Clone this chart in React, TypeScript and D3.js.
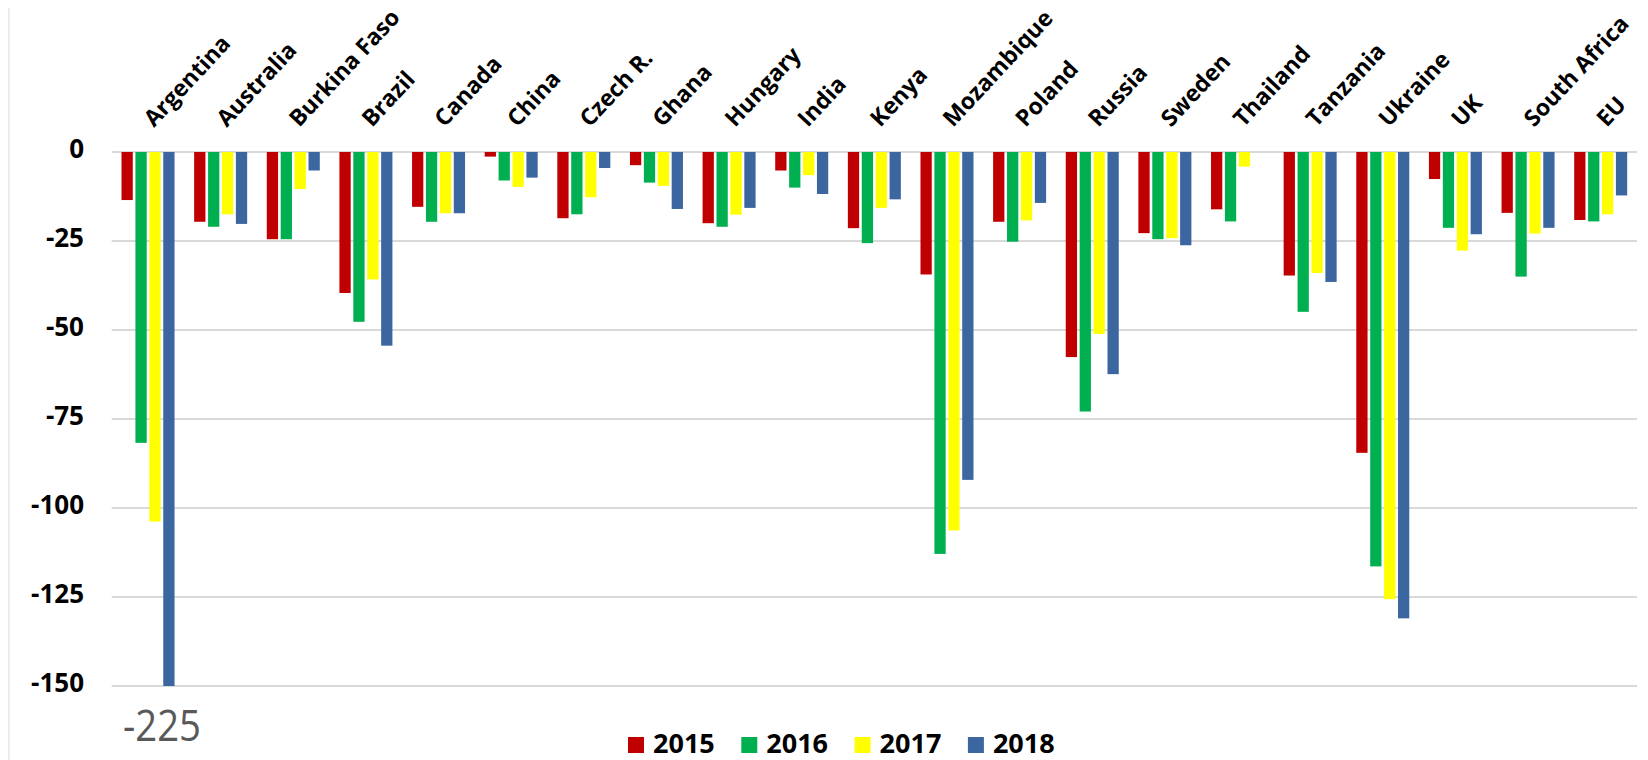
import * as d3 from 'd3';

// chart values
const categories = [
    'Argentina', 'Australia', 'Burkina Faso', 'Brazil', 'Canada', 'China', 'Czech R.',
    'Ghana', 'Hungary', 'India', 'Kenya', 'Mozambique', 'Poland', 'Russia', 'Sweden',
    'Thailand', 'Tanzania', 'Ukraine', 'UK', 'South Africa', 'EU',
];
const years = ['2015', '2016', '2017', '2018'];
const v2015 = [-13.5, -19.6, -24.5, -39.6, -15.4, -1.3, -18.6, -3.7, -20, -5.2, -21.4, -34.4, -19.6, -57.6, -22.8, -16.1, -34.7, -84.5, -7.6, -17.1, -19.1];
const v2016 = [-81.7, -21, -24.5, -47.7, -19.6, -8, -17.5, -8.6, -21, -10, -25.6, -112.9, -25.2, -72.9, -24.5, -19.5, -44.9, -116.4, -21.3, -35, -19.5];
const v2017 = [-103.8, -17.5, -10.4, -35.8, -17.2, -9.8, -12.7, -9.5, -17.6, -6.5, -15.7, -106.3, -19.2, -51.1, -24.2, -4.1, -34, -125.6, -27.7, -22.9, -17.5];
const v2018 = [-225, -20.2, -5.2, -54.4, -17.2, -7.2, -4.5, -16, -15.7, -11.8, -13.3, -92.1, -14.3, -62.4, -26.2, null, -36.5, -131, -23.1, -21.3, -12.2];
const yTicks = [0, -25, -50, -75, -100, -125, -150];
const outOfRangeNote = '-225';

const series = [v2015, v2016, v2017, v2018];
const colors = ['#c00000', '#00b050', '#ffff00', '#3b66a0'];

// layout
const W = 1648;
const H = 760;
const font = '"Open Sans", Calibri, sans-serif';

const x = d3.scaleBand<string>().domain(categories).range([111.7, 1637]).paddingInner(0).paddingOuter(0);
const y = d3.scaleLinear().domain([-150, 0]).range([686, 152]).clamp(true);

const years4 = d3.scaleBand<string>().domain(years).range([-26.5, 26.5]).paddingInner(0.19);

export default function App() {
    const [gx0, gx1] = x.range();

    return (
        <svg
            width={W}
            height={H}
            style={{ position: 'absolute', left: 0, top: 0, display: 'block', background: '#fff' }}
            fontFamily={font}
        >
            <line x1={9} x2={9} y1={8} y2={H} stroke="#d9d9d9" strokeWidth={1} />

            {yTicks.map((t) => (
                <g key={t}>
                    <line x1={gx0} x2={gx1} y1={y(t)} y2={y(t)} stroke="#d9d9d9" strokeWidth={2} />
                    <text x={84} y={y(t) - 3} dy="0.35em" textAnchor="end" fontSize={26} fontWeight={700} fill="#000">
                        {t}
                    </text>
                </g>
            ))}

            {categories.map((c, i) => {
                const cx = (x(c) ?? 0) + x.bandwidth() / 2;
                return (
                    <g key={c}>
                        {series.map((s, k) => {
                            const v = s[i];
                            if (v === null || v === undefined) return null;
                            const y0 = y(0);
                            const y1 = y(v);
                            return (
                                <rect
                                    key={k}
                                    x={cx + (years4(years[k]) ?? 0)}
                                    y={Math.min(y0, y1)}
                                    width={years4.bandwidth()}
                                    height={Math.abs(y1 - y0)}
                                    fill={colors[k]}
                                />
                            );
                        })}
                        <text
                            transform={`translate(${cx + 6},128) rotate(-47)`}
                            fontSize={23}
                            fontWeight={700}
                            fill="#000"
                        >
                            {c}
                        </text>
                    </g>
                );
            })}

            <text transform={`translate(123,741) scale(0.89,1)`} fontSize={43} fill="#595959">
                {outOfRangeNote}
            </text>

            {years.map((yr, k) => {
                const lx = 628 + k * 113.3;
                return (
                    <g key={yr}>
                        <rect x={lx} y={737} width={16} height={16} fill={colors[k]} />
                        <text x={lx + 25} y={753} fontSize={27} fontWeight={700} fill="#000">
                            {yr}
                        </text>
                    </g>
                );
            })}
        </svg>
    );
}
